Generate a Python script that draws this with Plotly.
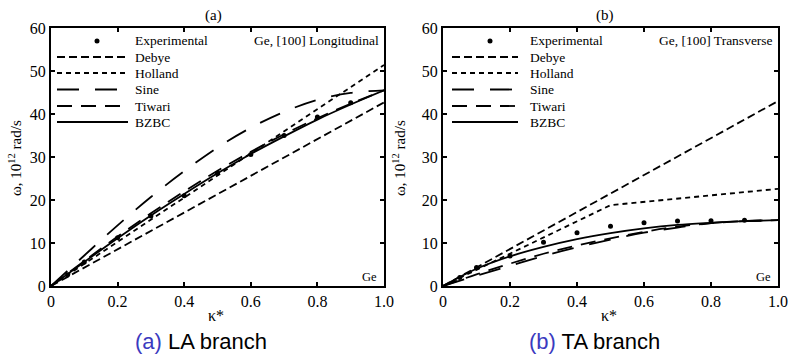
import plotly.graph_objects as go

W, H = 789, 354

# ---------------- data ----------------
kappa_grid = [0.0, 0.1, 0.2, 0.3, 0.4, 0.5, 0.6, 0.7, 0.8, 0.9, 1.0]
kappa_ends = [0.0, 1.0]
kappa_holland_ta = [0.0, 0.5, 1.0]
kappa_exp = [0.05, 0.1, 0.2, 0.3, 0.4, 0.5, 0.6, 0.7, 0.8, 0.9]

# (a) LA branch
exp_la = [2.6, 5.6, 11.2, 16.3, 21.0, 26.2, 30.6, 35.0, 39.3, 42.6]
debye_la = [0.0, 42.7]
holland_la = [0.0, 51.4]
sine_la = [0.0, 7.1, 14.1, 20.7, 26.7, 32.2, 36.8, 40.5, 43.3, 44.9, 45.5]
tiwari_la = [0.0, 5.8, 11.5, 16.9, 22.0, 26.8, 31.2, 35.3, 39.0, 42.4, 45.5]
bzbc_la = [0.0, 5.6, 11.1, 16.4, 21.4, 26.2, 30.7, 34.8, 38.7, 42.2, 45.5]

# (b) TA branch
exp_ta = [2.0, 4.3, 7.0, 10.2, 12.4, 13.9, 14.7, 15.1, 15.2, 15.3]
debye_ta = [0.0, 43.0]
holland_ta = [0.0, 18.8, 22.6]
sine_ta = [0.0, 2.4, 4.7, 7.0, 9.0, 10.8, 12.4, 13.6, 14.6, 15.1, 15.3]
tiwari_ta = [0.0, 2.7, 5.2, 7.5, 9.4, 11.1, 12.6, 13.8, 14.6, 15.1, 15.3]
bzbc_ta = [0.0, 4.0, 6.9, 9.1, 10.9, 12.3, 13.4, 14.2, 14.7, 15.1, 15.3]

x_tickvals = [0, 0.2, 0.4, 0.6, 0.8, 1.0]
x_ticktext = ["0", "0.2", "0.4", "0.6", "0.8", "1.0"]
y_tickvals = [0, 10, 20, 30, 40, 50, 60]
y_ticktext = ["0", "10", "20", "30", "40", "50", "60"]

legend_names = ["Experimental", "Debye", "Holland", "Sine", "Tiwari", "BZBC"]
panel_titles = ["(a)", "(b)"]
panel_labels = ["Ge, [100] Longitudinal", "Ge, [100] Transverse"]
captions = [("(a)", "LA branch"), ("(b)", "TA branch")]

# ---------------- styles ----------------
SERIF = "Liberation Serif, Times New Roman, serif"
SANS = "Liberation Sans, Arial, sans-serif"
BLUE = "#3a3abf"
LW = 1.8
DASH = {
    "Debye": "8px,4px",
    "Holland": "5px,4px",
    "Sine": "22px,16px",
    "Tiwari": "15px,9px",
    "BZBC": "solid",
}

# panel pixel boxes: (left, right, top, bottom)
panels = [(51, 384, 28, 286), (443, 778, 28, 286)]


def px(x):
    return x / W


def py(y):
    return 1 - y / H


fig = go.Figure()

series = [
    dict(
        exp=exp_la,
        models=[
            ("Debye", kappa_ends, debye_la, "linear"),
            ("Holland", kappa_ends, holland_la, "linear"),
            ("Sine", kappa_grid, sine_la, "spline"),
            ("Tiwari", kappa_grid, tiwari_la, "spline"),
            ("BZBC", kappa_grid, bzbc_la, "spline"),
        ],
    ),
    dict(
        exp=exp_ta,
        models=[
            ("Debye", kappa_ends, debye_ta, "linear"),
            ("Holland", kappa_holland_ta, holland_ta, "linear"),
            ("Sine", kappa_grid, sine_ta, "spline"),
            ("Tiwari", kappa_grid, tiwari_ta, "spline"),
            ("BZBC", kappa_grid, bzbc_ta, "spline"),
        ],
    ),
]

for i, s in enumerate(series):
    xa = "x" if i == 0 else "x2"
    ya = "y" if i == 0 else "y2"
    for name, kx, vy, shape in s["models"]:
        fig.add_trace(go.Scatter(
            x=kx, y=vy, mode="lines", name=name, showlegend=False,
            line=dict(color="black", width=LW, dash=DASH[name], shape=shape),
            xaxis=xa, yaxis=ya, hoverinfo="skip", cliponaxis=True,
        ))
    fig.add_trace(go.Scatter(
        x=kappa_exp, y=s["exp"], mode="markers", name="Experimental",
        showlegend=False, marker=dict(color="black", size=5),
        xaxis=xa, yaxis=ya, cliponaxis=False,
    ))

axis_common = dict(
    showline=True, linecolor="black", linewidth=2, mirror="ticks",
    ticks="inside", ticklen=4, tickwidth=1.5, tickcolor="black",
    showgrid=False, zeroline=False,
    tickfont=dict(family=SERIF, size=16, color="black"),
    automargin=False, fixedrange=True,
)

layout_axes = {}
for i, (l, r, t, b) in enumerate(panels):
    sfx = "" if i == 0 else "2"
    layout_axes["xaxis" + sfx] = dict(
        axis_common, domain=[px(l), px(r)], range=[0, 1],
        tickvals=x_tickvals, ticktext=x_ticktext,
        anchor="y" + sfx,
    )
    layout_axes["yaxis" + sfx] = dict(
        axis_common, domain=[py(b), py(t)], range=[0, 60],
        tickvals=y_tickvals, ticktext=y_ticktext,
        anchor="x" + sfx,
    )

fig.update_layout(
    width=W, height=H, margin=dict(l=0, r=0, t=0, b=0),
    paper_bgcolor="white", plot_bgcolor="white", showlegend=False,
    **layout_axes,
)

annotations = []
shapes = []

# legend geometry relative to each panel's left axis (pixels)
leg_rows = [41, 57, 73, 89.5, 106, 122]
leg_geom = [dict(l0=6, l1=77, dot=46, txt=82), dict(l0=9, l1=75, dot=47, txt=85)]

for i, (l, r, t, b) in enumerate(panels):
    g = leg_geom[i]
    cx = (l + r) / 2
    # panel title
    annotations.append(dict(
        x=px(cx + (-4 if i == 0 else -6)), y=py(15), xref="paper", yref="paper",
        text=panel_titles[i], showarrow=False,
        font=dict(family=SERIF, size=15, color="black"),
        xanchor="center", yanchor="middle",
    ))
    # label in top right
    annotations.append(dict(
        x=px(r - 3), y=py(41), xref="paper", yref="paper",
        text=panel_labels[i], showarrow=False,
        font=dict(family=SERIF, size=13.5, color="black"),
        xanchor="right", yanchor="middle",
    ))
    # "Ge" bottom right
    annotations.append(dict(
        x=px(r - 5), y=py(277), xref="paper", yref="paper",
        text="Ge", showarrow=False,
        font=dict(family=SERIF, size=12.5, color="black"),
        xanchor="right", yanchor="middle",
    ))
    # axis titles
    annotations.append(dict(
        x=px(l - (36 if i == 0 else 44)), y=py(158), xref="paper", yref="paper",
        text="ω, 10<sup>12</sup> rad/s", showarrow=False, textangle=-90,
        font=dict(family=SERIF, size=15, color="black"),
        xanchor="center", yanchor="middle",
    ))
    annotations.append(dict(
        x=px(cx - 2), y=py(315), xref="paper", yref="paper",
        text="κ*", showarrow=False,
        font=dict(family=SERIF, size=16, color="black"),
        xanchor="center", yanchor="middle",
    ))
    # caption
    tag, lab = captions[i]
    annotations.append(dict(
        x=px(201 if i == 0 else 594), y=py(341), xref="paper", yref="paper",
        text=f"<span style='color:{BLUE}'>{tag}</span> {lab}", showarrow=False,
        font=dict(family=SANS, size=22, color="black"),
        xanchor="center", yanchor="middle",
    ))
    # legend
    for j, name in enumerate(legend_names):
        yrow = leg_rows[j]
        annotations.append(dict(
            x=px(l + g["txt"]), y=py(yrow), xref="paper", yref="paper",
            text=name, showarrow=False,
            font=dict(family=SERIF, size=13.5, color="black"),
            xanchor="left", yanchor="middle",
        ))
        if name == "Experimental":
            shapes.append(dict(
                type="circle", xref="paper", yref="paper",
                x0=px(l + g["dot"] - 2.5), x1=px(l + g["dot"] + 2.5),
                y0=py(yrow + 2.5), y1=py(yrow - 2.5),
                fillcolor="black", line=dict(color="black", width=0),
            ))
        else:
            shapes.append(dict(
                type="line", xref="paper", yref="paper",
                x0=px(l + g["l0"]), x1=px(l + g["l1"]),
                y0=py(yrow), y1=py(yrow),
                line=dict(color="black", width=LW, dash=DASH[name]),
            ))

fig.update_layout(annotations=annotations, shapes=shapes)

fig.write_html("out.html")
